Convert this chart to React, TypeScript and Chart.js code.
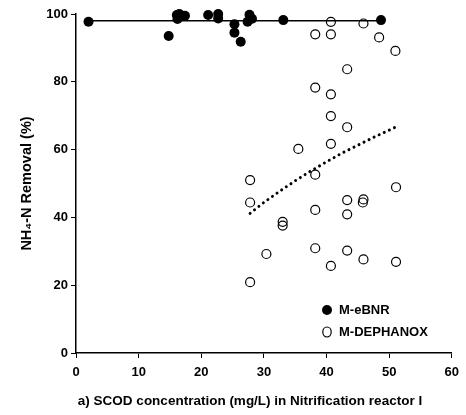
import React, { useEffect, useRef } from 'react';
import { Chart, registerables } from 'chart.js';

Chart.register(...registerables);

const ebnrX = [2, 14.8, 16.1, 16.5, 17.4, 16.2, 21.1, 22.7, 22.7, 25.3, 25.3, 26.3, 27.7, 27.4, 28.1, 33.1, 48.7];
const ebnrY = [97.7, 93.5, 99.7, 100, 99.5, 98.5, 99.7, 100, 98.7, 97.0, 94.5, 91.8, 99.8, 97.7, 98.6, 98.2, 98.2];

const dephX = [40.7, 45.9, 38.2, 40.7, 48.4, 51.0, 43.3, 38.2, 40.7, 40.7, 43.3, 35.5, 40.7, 27.8, 38.2, 51.1, 27.8, 43.3, 45.9, 45.8, 38.2, 43.3, 33.0, 33.0, 30.4, 38.2, 43.3, 45.9, 40.7, 51.1, 27.8];
const dephY = [97.7, 97.2, 94.0, 94.0, 93.1, 89.1, 83.7, 78.3, 76.3, 69.9, 66.6, 60.2, 61.7, 51.0, 52.6, 48.9, 44.4, 45.1, 45.3, 44.4, 42.2, 40.9, 38.7, 37.6, 29.2, 30.9, 30.2, 27.6, 25.7, 26.9, 20.9];

const ebnrTrendX = [2, 48.7];
const ebnrTrendY = [98, 98];

const dephTrendX = [27.8, 30, 32.5, 35, 37.5, 40, 42.5, 45, 47.5, 51];
const dephTrendY = [41.2, 44.4, 47.7, 50.8, 53.7, 56.4, 59.0, 61.3, 63.6, 66.6];

const xTitle = 'a) SCOD concentration (mg/L) in Nitrification reactor I';
const yTitle = 'NH\u2084-N Removal (%)';
const legendLabels = ['M-eBNR', 'M-DEPHANOX'];

const FONT = 'Liberation Sans, Arial, sans-serif';

const zip = (xs: number[], ys: number[]) => xs.map((x, i) => ({ x, y: ys[i] }));

const overlayPlugin = {
  id: 'insideLegend',
  afterDraw(chart: any) {
    const { ctx, chartArea } = chart;
    const x0 = chartArea.left + 251;
    const y0 = chartArea.top + 296;
    ctx.save();
    ctx.font = `bold 13px ${FONT}`;
    ctx.textBaseline = 'middle';
    ctx.fillStyle = '#000';
    ctx.beginPath();
    ctx.arc(x0, y0, 5, 0, Math.PI * 2);
    ctx.fill();
    ctx.fillText(legendLabels[0], x0 + 12, y0);
    ctx.beginPath();
    ctx.ellipse(x0, y0 + 22, 4.2, 5, 0, 0, Math.PI * 2);
    ctx.lineWidth = 1.2;
    ctx.strokeStyle = '#000';
    ctx.stroke();
    ctx.fillText(legendLabels[1], x0 + 12, y0 + 22);
    // x-axis title
    ctx.font = `bold 13.5px ${FONT}`;
    ctx.textAlign = 'center';
    ctx.fillText(xTitle, chartArea.left + 174, chartArea.bottom + 48);
    ctx.restore();
  },
};

export default function App() {
  const ref = useRef<HTMLCanvasElement>(null);
  useEffect(() => {
    document.body.style.margin = '0';
    const canvas = ref.current!;
    const chart = new Chart(canvas, {
      type: 'scatter',
      data: {
        datasets: [
          {
            label: 'eBNR trend',
            data: zip(ebnrTrendX, ebnrTrendY),
            showLine: true,
            borderColor: '#000',
            borderWidth: 1.6,
            pointRadius: 0,
            clip: false,
          },
          {
            label: 'DEPHANOX trend',
            data: zip(dephTrendX, dephTrendY),
            showLine: true,
            borderColor: '#000',
            borderWidth: 3,
            borderDash: [0.01, 5.6],
            borderCapStyle: 'round',
            pointRadius: 0,
            clip: false,
          },
          {
            label: legendLabels[1],
            data: zip(dephX, dephY),
            pointRadius: 4.5,
            pointBackgroundColor: 'rgba(255,255,255,0)',
            pointBorderColor: '#000',
            pointBorderWidth: 1.2,
            clip: false,
          },
          {
            label: legendLabels[0],
            data: zip(ebnrX, ebnrY),
            pointRadius: 5,
            pointBackgroundColor: '#000',
            pointBorderColor: '#000',
            pointBorderWidth: 0,
            clip: false,
          },
        ],
      } as any,
      options: {
        responsive: false,
        animation: false,
        layout: { padding: { top: 14, right: 9, left: 0, bottom: 0 } },
        plugins: { legend: { display: false }, tooltip: { enabled: false } },
        scales: {
          x: {
            type: 'linear',
            min: 0,
            max: 60,
            ticks: { stepSize: 10, color: '#000', font: { family: FONT, size: 13, weight: 'bold' }, padding: 7 },
            grid: { display: true, drawOnChartArea: false, drawTicks: true, tickLength: 5, color: '#000' },
            border: { display: true, color: '#000', width: 1.5 },
            title: { display: false },
            afterFit: (s: any) => { s.height = 62; },
          },
          y: {
            type: 'linear',
            min: 0,
            max: 100,
            ticks: { stepSize: 20, color: '#000', font: { family: FONT, size: 13, weight: 'bold' }, padding: 3 },
            grid: { display: true, drawOnChartArea: false, drawTicks: true, tickLength: 5, color: '#000' },
            border: { display: true, color: '#000', width: 1.5 },
            title: { display: true, text: yTitle, color: '#000', font: { family: FONT, size: 14.5, weight: 'bold' }, padding: { top: 18, bottom: 0 } },
            afterFit: (s: any) => { s.width = 76; },
          },
        },
      } as any,
      plugins: [overlayPlugin],
    });
    return () => chart.destroy();
  }, []);
  return (
    <div style={{ width: 466, height: 415 }}>
      <canvas ref={ref} width={466} height={415} style={{ width: 466, height: 415, display: 'block' }} />
    </div>
  );
}
